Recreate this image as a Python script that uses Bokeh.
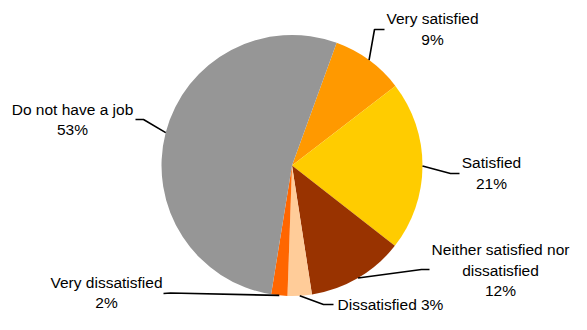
import numpy as np
from bokeh.plotting import figure
from bokeh.models import Range1d, ColumnDataSource
from bokeh.core.properties import value
from bokeh.embed import file_html
from bokeh.resources import INLINE

# ---- data ----
categories = ["Very satisfied", "Satisfied", "Neither satisfied nor dissatisfied",
              "Dissatisfied", "Very dissatisfied", "Do not have a job"]
shares = [9, 21, 12, 3, 2, 53]
label_lines = [["Very satisfied", "9%"],
               ["Satisfied", "21%"],
               ["Neither satisfied nor", "dissatisfied", "12%"],
               ["Dissatisfied", "3%"],
               ["Very dissatisfied", "2%"],
               ["Do not have a job", "53%"]]
colors = ["#FF9900", "#FFCC00", "#993300", "#FFCC99", "#FF6600", "#969696"]

# ---- layout (pixels from the top-left of the plot, y downward) ----
W, H = 571, 314
CX, CY, R = 291.5, 165.0, 130.5
START = 20.0  # degrees clockwise from 12 o'clock
FS = 15.5
LINE_GAP = 20.5
# per label: list of (x, y, align) for each line
label_layout = [
    [(432, 18, "center"), (432, 39, "center")],
    [(491, 162, "center"), (491, 183, "center")],
    [(500, 249, "center"), (500, 270, "center"), (500, 290, "center")],
    [(337, 304, "left"), (420.5, 304, "left")],
    [(106, 282, "center"), (106, 302, "center")],
    [(72, 109, "center"), (72, 129, "center")],
]
leader_pts = [[(374, 29), (384, 29)],
              [(450, 173), (459, 173)],
              [(421, 269), (429, 269)],
              [(323, 304), (333, 304)],
              [(170, 292.5), (163, 293)],
              [(143, 119), (135, 119)]]

def Y(y):
    return H - y

p = figure(width=W, height=H, output_backend="svg", toolbar_location=None,
           x_range=Range1d(0, W), y_range=Range1d(0, H),
           min_border=0, outline_line_color=None)
p.axis.visible = False
p.grid.visible = False
p.background_fill_color = "white"
p.border_fill_color = "white"

vals = np.array(shares, dtype=float)
frac = vals / vals.sum()
theta_end = START + np.cumsum(frac) * 360.0
theta_start = theta_end - frac * 360.0
start_ang = np.radians(90.0 - theta_end)
end_ang = np.radians(90.0 - theta_start)

src = ColumnDataSource(dict(x=[CX] * len(vals), y=[Y(CY)] * len(vals),
                            start=start_ang, end=end_ang, color=colors,
                            cat=categories))
p.wedge(x="x", y="y", radius=R, start_angle="start", end_angle="end",
        fill_color="color", line_color=None, source=src)

# leaders
mid = np.radians(theta_start + frac * 180.0)
for i in range(len(vals)):
    ex = CX + R * np.sin(mid[i])
    ey = CY - R * np.cos(mid[i])
    xs = [ex] + [pt[0] for pt in leader_pts[i]]
    ys = [Y(ey)] + [Y(pt[1]) for pt in leader_pts[i]]
    p.line(xs, ys, line_color="black", line_width=1.6)

# labels
for align in ("center", "left"):
    tx, ty, tt = [], [], []
    for i, lines in enumerate(label_lines):
        for j, t in enumerate(lines):
            lx, ly, a = label_layout[i][j]
            if a == align:
                tx.append(lx)
                ty.append(Y(ly))
                tt.append(t)
    p.text(x=tx, y=ty, text=tt, text_font=value("Liberation Sans"),
           text_font_size=f"{FS}px", text_align=align, text_baseline="middle",
           text_color="black")

open("out.html", "w").write(file_html(p, INLINE))
